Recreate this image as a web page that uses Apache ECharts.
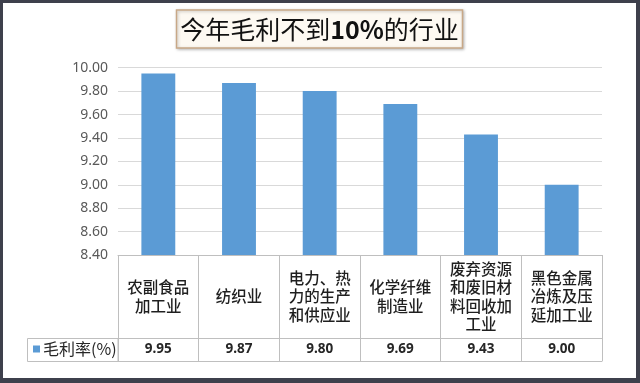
<!DOCTYPE html>
<html><head><meta charset="utf-8">
<script src="https://cdn.jsdelivr.net/npm/echarts@6/dist/echarts.min.js"></script>
<style>
html,body{margin:0;padding:0;background:#3e404c;}
#wrap{position:absolute;left:0;top:0;width:640px;height:383px;background:#3e404c;}
#c{position:absolute;left:3px;top:3px;width:633px;height:375px;background:#fff;}
</style></head>
<body><div id="wrap"><div id="c"></div></div>
<script>
var categories = ['农副食品\n加工业', '纺织业', '电力、热\n力的生产\n和供应业', '化学纤维\n制造业', '废弃资源\n和废旧材\n料回收加\n工业', '黑色金属\n冶炼及压\n延加工业'];
var values = [9.95, 9.87, 9.80, 9.69, 9.43, 9.00];
var seriesName = '毛利率(%)';
var yTicks = {min: 8.4, max: 10.0, interval: 0.2};

var cjk = '"Noto Sans CJK SC", sans-serif';
var lineC = '#bfbfbf';
var chart = echarts.init(document.getElementById('c'), null, {renderer: 'canvas'});
chart.setOption({
  animation: false,
  title: {
    text: '{n|今年毛利不到}{b|10%}{n|的行业}',
    left: 'center', top: 7,
    padding: [7, 4, 6, 4],
    backgroundColor: '#fdf9f2',
    borderColor: '#c8a887', borderWidth: 1.5,
    shadowColor: 'rgba(0,0,0,0.25)', shadowBlur: 3, shadowOffsetX: 1, shadowOffsetY: 1,
    textStyle: {
      fontWeight: 'normal',
      rich: {
        n: {fontFamily: cjk, fontSize: 25, fontWeight: 'normal', color: '#111'},
        b: {fontFamily: cjk, fontSize: 25, fontWeight: 'bold', color: '#111'}
      }
    }
  },
  legend: {
    data: [seriesName], left: 30, top: 338, padding: 0,
    icon: 'rect', itemWidth: 7, itemHeight: 7, itemGap: 4,
    textStyle: {fontFamily: cjk, fontSize: 16, color: '#262626', padding: [0, 0, 0, -2]}
  },
  graphic: [{
    type: 'rect', silent: true, z: -1,
    shape: {x: 24.5, y: 335.5, width: 90.5, height: 23},
    style: {fill: 'none', stroke: lineC, lineWidth: 1}
  }],
  grid: {left: 115, right: 34, top: 64.7, bottom: 123},
  xAxis: [{
    type: 'category', data: categories, position: 'bottom',
    axisLine: {show: true, lineStyle: {color: lineC, width: 1}},
    axisTick: {show: true, length: 106, lineStyle: {color: lineC, width: 1}},
    axisLabel: {interval: 0, margin: 41.5, verticalAlign: 'middle', fontFamily: cjk, fontSize: 15.5, fontWeight: 500, lineHeight: 18.5, color: '#1f1f1f'}
  }, {
    type: 'category', data: categories, position: 'bottom', offset: 83,
    axisLine: {show: true, lineStyle: {color: lineC, width: 1}},
    axisTick: {show: false},
    axisLabel: {interval: 0, margin: 11.5, verticalAlign: 'middle', fontFamily: '"Noto Sans", sans-serif', fontWeight: 'bold', fontSize: 13.5, color: '#262626',
      formatter: function (v, i) { return values[i].toFixed(2); }}
  }, {
    type: 'category', data: categories, position: 'bottom', offset: 106,
    axisLine: {show: true, lineStyle: {color: lineC, width: 1}},
    axisTick: {show: false}, axisLabel: {show: false}
  }],
  yAxis: {
    type: 'value', min: yTicks.min, max: yTicks.max, interval: yTicks.interval,
    axisLine: {show: false}, axisTick: {show: false},
    splitLine: {lineStyle: {color: '#d9d9d9', width: 1}},
    axisLabel: {margin: 10, fontFamily: '"Noto Sans", sans-serif', fontSize: 14, color: '#595959',
      formatter: function (v) { return v.toFixed(2); }}
  },
  series: [{
    name: seriesName, type: 'bar', data: values, barWidth: '42%',
    itemStyle: {color: '#5b9bd5'}
  }]
});
</script></body></html>
